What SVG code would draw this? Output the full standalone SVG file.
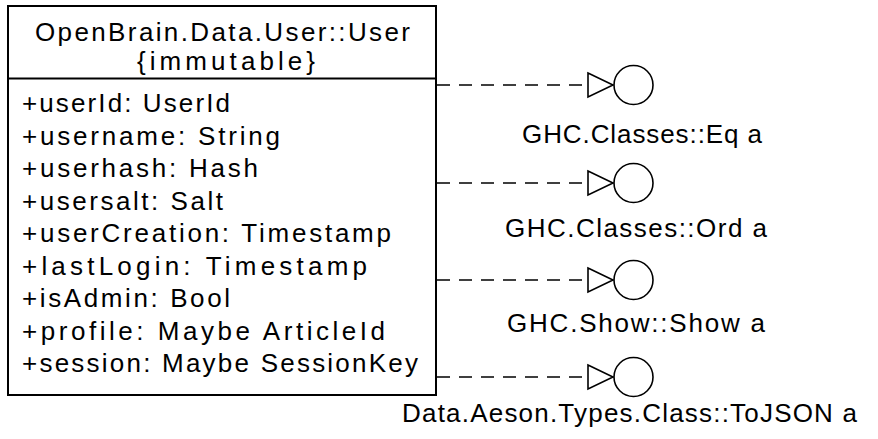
<svg xmlns="http://www.w3.org/2000/svg" width="878" height="439" viewBox="0 0 878 439">
  <style>
    .box { fill: #ffffff; stroke: #000000; stroke-width: 2; }
    .txt { font-family: "Liberation Sans", Arial, Helvetica, sans-serif; font-size: 26px; fill: #000000; }
    .dep { fill: none; stroke: #000000; stroke-width: 1.6; stroke-dasharray: 13 9; }
    .tri { fill: #ffffff; stroke: #000000; stroke-width: 1.6; }
    .iface { fill: #ffffff; stroke: #000000; stroke-width: 1.6; }
  </style>
  <rect width="878" height="439" fill="#ffffff"/>

  <!-- class box -->
  <g id="user-class">
    <rect class="box" x="8" y="6" width="428" height="389"/>
    <line x1="8" y1="78.5" x2="436" y2="78.5" stroke="#000000" stroke-width="2"/>
    <text class="txt" x="35" y="41" textLength="375" lengthAdjust="spacing">OpenBrain.Data.User::User</text>
    <text class="txt" x="137" y="70" textLength="178" lengthAdjust="spacing">{immutable}</text>
    <text class="txt" x="22" y="112" textLength="208" lengthAdjust="spacing">+userId: UserId</text>
    <text class="txt" x="22" y="144.5" textLength="258" lengthAdjust="spacing">+username: String</text>
    <text class="txt" x="22" y="177" textLength="236" lengthAdjust="spacing">+userhash: Hash</text>
    <text class="txt" x="22" y="209.5" textLength="201" lengthAdjust="spacing">+usersalt: Salt</text>
    <text class="txt" x="22" y="242" textLength="369" lengthAdjust="spacing">+userCreation: Timestamp</text>
    <text class="txt" x="22" y="274.5" textLength="345" lengthAdjust="spacing">+lastLogin: Timestamp</text>
    <text class="txt" x="22" y="307" textLength="208" lengthAdjust="spacing">+isAdmin: Bool</text>
    <text class="txt" x="22" y="339.5" textLength="363" lengthAdjust="spacing">+profile: Maybe ArticleId</text>
    <text class="txt" x="22" y="372" textLength="396" lengthAdjust="spacing">+session: Maybe SessionKey</text>
  </g>

  <!-- realization connectors -->
  <g id="connectors">
    <line class="dep" x1="437" y1="85" x2="588" y2="85"/>
    <polygon class="tri" points="588,73 613,85 588,97"/>
    <line class="dep" x1="437" y1="183" x2="588" y2="183"/>
    <polygon class="tri" points="588,171 613,183 588,195"/>
    <line class="dep" x1="437" y1="280" x2="588" y2="280"/>
    <polygon class="tri" points="588,268 613,280 588,292"/>
    <line class="dep" x1="437" y1="377" x2="588" y2="377"/>
    <polygon class="tri" points="588,365 613,377 588,389"/>
  </g>

  <!-- interfaces -->
  <g id="iface-eq">
    <circle class="iface" cx="633.5" cy="85" r="19.5"/>
    <text class="txt" x="522" y="143" textLength="240" lengthAdjust="spacing">GHC.Classes::Eq a</text>
  </g>
  <g id="iface-ord">
    <circle class="iface" cx="633.5" cy="183" r="19.5"/>
    <text class="txt" x="505" y="237" textLength="262" lengthAdjust="spacing">GHC.Classes::Ord a</text>
  </g>
  <g id="iface-show">
    <circle class="iface" cx="633.5" cy="280" r="19.5"/>
    <text class="txt" x="507" y="332" textLength="258" lengthAdjust="spacing">GHC.Show::Show a</text>
  </g>
  <g id="iface-tojson">
    <circle class="iface" cx="633.5" cy="377" r="19.5"/>
    <text class="txt" x="402" y="422" textLength="455" lengthAdjust="spacing">Data.Aeson.Types.Class::ToJSON a</text>
  </g>
</svg>
